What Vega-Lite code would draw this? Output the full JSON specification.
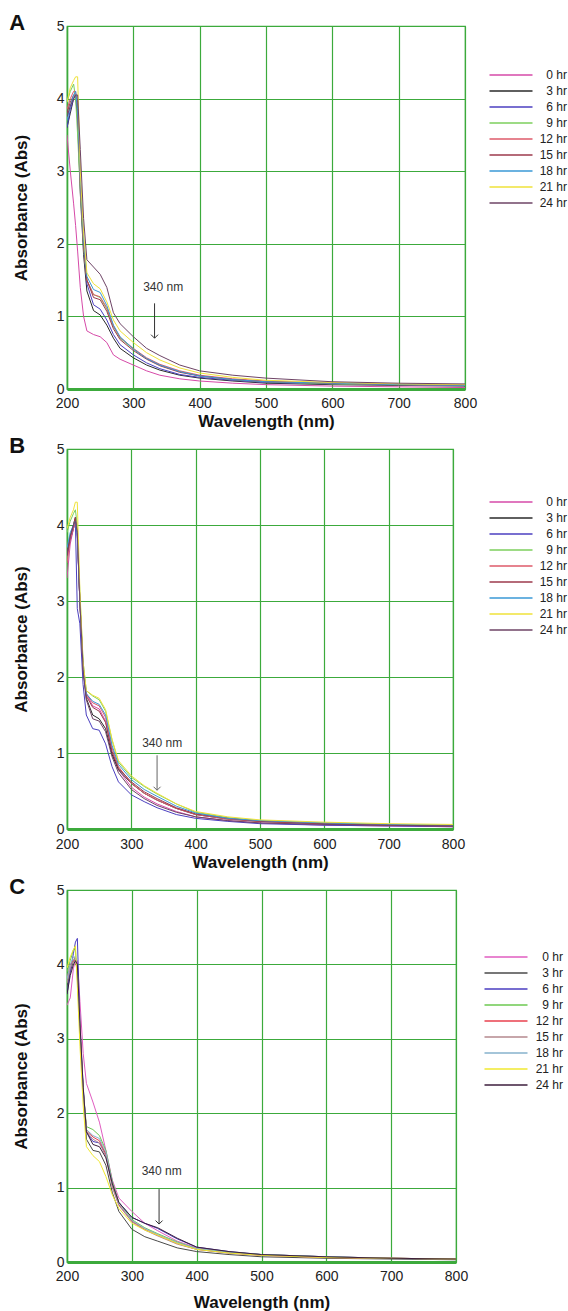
{
"$schema": "https://vega.github.io/schema/vega-lite/v6.json",
"padding": {"left": 8, "top": 11, "right": 0, "bottom": 0},
"background": "white",
"config": {
  "font": "Liberation Sans",
  "view": {"stroke": "#3caa3c", "strokeWidth": 1.2},
  "axis": {"gridColor": "#3caa3c", "gridOpacity": 1, "gridWidth": 1.2, "domainColor": "#3caa3c", "ticks": false, "labelFont": "Liberation Sans", "labelFontSize": 14, "labelColor": "#222", "titleFont": "Liberation Sans", "titleFontSize": 17, "titleFontWeight": "bold", "titleColor": "#111", "format": "d", "labelFlush": false},
  "legend": {"orient": "none", "title": null, "padding": 0, "symbolType": "M-4.3,0H4.3", "symbolSize": 100, "symbolStrokeWidth": 1.5, "labelFont": "Liberation Sans", "labelFontSize": 12, "labelColor": "#222", "labelOffset": 50, "labelAlign": "right", "rowPadding": 4},
  "title": {"font": "Liberation Sans", "fontSize": 22, "fontWeight": "bold", "color": "#111", "anchor": "start", "frame": "bounds", "offset": 0}
},
"resolve": {"scale": {"color": "independent"}, "legend": {"color": "independent"}},
"datasets": {
"A": [
{"s":"0 hr","w":200,"a":3.5},{"s":"0 hr","w":205,"a":3.0},{"s":"0 hr","w":210,"a":2.55},{"s":"0 hr","w":213,"a":2.25},{"s":"0 hr","w":216,"a":1.9},{"s":"0 hr","w":220,"a":1.4},{"s":"0 hr","w":225,"a":1.0},{"s":"0 hr","w":230,"a":0.8},{"s":"0 hr","w":240,"a":0.75},{"s":"0 hr","w":250,"a":0.72},{"s":"0 hr","w":260,"a":0.64},{"s":"0 hr","w":270,"a":0.47},{"s":"0 hr","w":280,"a":0.41},{"s":"0 hr","w":300,"a":0.33},{"s":"0 hr","w":320,"a":0.25},{"s":"0 hr","w":340,"a":0.19},{"s":"0 hr","w":370,"a":0.14},{"s":"0 hr","w":400,"a":0.11},{"s":"0 hr","w":450,"a":0.08},{"s":"0 hr","w":500,"a":0.06},{"s":"0 hr","w":600,"a":0.04},{"s":"0 hr","w":700,"a":0.03},{"s":"0 hr","w":800,"a":0.02},
{"s":"3 hr","w":200,"a":3.6},{"s":"3 hr","w":205,"a":3.8},{"s":"3 hr","w":210,"a":4.0},{"s":"3 hr","w":213,"a":4.05},{"s":"3 hr","w":216,"a":3.7},{"s":"3 hr","w":220,"a":2.7},{"s":"3 hr","w":225,"a":1.85},{"s":"3 hr","w":230,"a":1.35},{"s":"3 hr","w":240,"a":1.08},{"s":"3 hr","w":250,"a":1.02},{"s":"3 hr","w":260,"a":0.88},{"s":"3 hr","w":270,"a":0.7},{"s":"3 hr","w":280,"a":0.56},{"s":"3 hr","w":300,"a":0.43},{"s":"3 hr","w":320,"a":0.33},{"s":"3 hr","w":340,"a":0.26},{"s":"3 hr","w":370,"a":0.19},{"s":"3 hr","w":400,"a":0.15},{"s":"3 hr","w":450,"a":0.11},{"s":"3 hr","w":500,"a":0.08},{"s":"3 hr","w":600,"a":0.06},{"s":"3 hr","w":700,"a":0.05},{"s":"3 hr","w":800,"a":0.04},
{"s":"6 hr","w":200,"a":3.6},{"s":"6 hr","w":205,"a":3.85},{"s":"6 hr","w":210,"a":4.0},{"s":"6 hr","w":213,"a":4.05},{"s":"6 hr","w":216,"a":3.8},{"s":"6 hr","w":220,"a":2.8},{"s":"6 hr","w":225,"a":1.95},{"s":"6 hr","w":230,"a":1.45},{"s":"6 hr","w":240,"a":1.16},{"s":"6 hr","w":250,"a":1.1},{"s":"6 hr","w":260,"a":0.95},{"s":"6 hr","w":270,"a":0.75},{"s":"6 hr","w":280,"a":0.61},{"s":"6 hr","w":300,"a":0.47},{"s":"6 hr","w":320,"a":0.36},{"s":"6 hr","w":340,"a":0.28},{"s":"6 hr","w":370,"a":0.2},{"s":"6 hr","w":400,"a":0.16},{"s":"6 hr","w":450,"a":0.12},{"s":"6 hr","w":500,"a":0.09},{"s":"6 hr","w":600,"a":0.07},{"s":"6 hr","w":700,"a":0.06},{"s":"6 hr","w":800,"a":0.05},
{"s":"9 hr","w":200,"a":3.95},{"s":"9 hr","w":205,"a":4.1},{"s":"9 hr","w":210,"a":4.2},{"s":"9 hr","w":213,"a":4.0},{"s":"9 hr","w":216,"a":3.5},{"s":"9 hr","w":220,"a":2.75},{"s":"9 hr","w":225,"a":1.95},{"s":"9 hr","w":230,"a":1.5},{"s":"9 hr","w":240,"a":1.3},{"s":"9 hr","w":250,"a":1.26},{"s":"9 hr","w":260,"a":1.1},{"s":"9 hr","w":270,"a":0.86},{"s":"9 hr","w":280,"a":0.7},{"s":"9 hr","w":300,"a":0.55},{"s":"9 hr","w":320,"a":0.42},{"s":"9 hr","w":340,"a":0.33},{"s":"9 hr","w":370,"a":0.24},{"s":"9 hr","w":400,"a":0.18},{"s":"9 hr","w":450,"a":0.13},{"s":"9 hr","w":500,"a":0.1},{"s":"9 hr","w":600,"a":0.07},{"s":"9 hr","w":700,"a":0.06},{"s":"9 hr","w":800,"a":0.05},
{"s":"12 hr","w":200,"a":3.85},{"s":"12 hr","w":205,"a":4.0},{"s":"12 hr","w":210,"a":4.1},{"s":"12 hr","w":213,"a":4.1},{"s":"12 hr","w":216,"a":3.9},{"s":"12 hr","w":220,"a":2.85},{"s":"12 hr","w":225,"a":2.0},{"s":"12 hr","w":230,"a":1.5},{"s":"12 hr","w":240,"a":1.3},{"s":"12 hr","w":250,"a":1.27},{"s":"12 hr","w":260,"a":1.12},{"s":"12 hr","w":270,"a":0.87},{"s":"12 hr","w":280,"a":0.71},{"s":"12 hr","w":300,"a":0.56},{"s":"12 hr","w":320,"a":0.43},{"s":"12 hr","w":340,"a":0.34},{"s":"12 hr","w":370,"a":0.25},{"s":"12 hr","w":400,"a":0.19},{"s":"12 hr","w":450,"a":0.14},{"s":"12 hr","w":500,"a":0.11},{"s":"12 hr","w":600,"a":0.08},{"s":"12 hr","w":700,"a":0.06},{"s":"12 hr","w":800,"a":0.05},
{"s":"15 hr","w":200,"a":3.8},{"s":"15 hr","w":205,"a":3.95},{"s":"15 hr","w":210,"a":4.05},{"s":"15 hr","w":213,"a":4.05},{"s":"15 hr","w":216,"a":3.95},{"s":"15 hr","w":220,"a":2.9},{"s":"15 hr","w":225,"a":2.0},{"s":"15 hr","w":230,"a":1.5},{"s":"15 hr","w":240,"a":1.26},{"s":"15 hr","w":250,"a":1.23},{"s":"15 hr","w":260,"a":1.07},{"s":"15 hr","w":270,"a":0.83},{"s":"15 hr","w":280,"a":0.68},{"s":"15 hr","w":300,"a":0.53},{"s":"15 hr","w":320,"a":0.41},{"s":"15 hr","w":340,"a":0.32},{"s":"15 hr","w":370,"a":0.23},{"s":"15 hr","w":400,"a":0.18},{"s":"15 hr","w":450,"a":0.13},{"s":"15 hr","w":500,"a":0.1},{"s":"15 hr","w":600,"a":0.08},{"s":"15 hr","w":700,"a":0.06},{"s":"15 hr","w":800,"a":0.05},
{"s":"18 hr","w":200,"a":3.7},{"s":"18 hr","w":205,"a":3.9},{"s":"18 hr","w":210,"a":4.05},{"s":"18 hr","w":213,"a":4.1},{"s":"18 hr","w":216,"a":3.85},{"s":"18 hr","w":220,"a":2.9},{"s":"18 hr","w":225,"a":2.05},{"s":"18 hr","w":230,"a":1.55},{"s":"18 hr","w":240,"a":1.37},{"s":"18 hr","w":250,"a":1.33},{"s":"18 hr","w":260,"a":1.15},{"s":"18 hr","w":270,"a":0.88},{"s":"18 hr","w":280,"a":0.72},{"s":"18 hr","w":300,"a":0.55},{"s":"18 hr","w":320,"a":0.42},{"s":"18 hr","w":340,"a":0.33},{"s":"18 hr","w":370,"a":0.24},{"s":"18 hr","w":400,"a":0.18},{"s":"18 hr","w":450,"a":0.13},{"s":"18 hr","w":500,"a":0.1},{"s":"18 hr","w":600,"a":0.08},{"s":"18 hr","w":700,"a":0.06},{"s":"18 hr","w":800,"a":0.05},
{"s":"21 hr","w":200,"a":3.95},{"s":"21 hr","w":205,"a":4.15},{"s":"21 hr","w":210,"a":4.25},{"s":"21 hr","w":213,"a":4.3},{"s":"21 hr","w":216,"a":4.3},{"s":"21 hr","w":220,"a":3.0},{"s":"21 hr","w":225,"a":2.15},{"s":"21 hr","w":230,"a":1.6},{"s":"21 hr","w":240,"a":1.45},{"s":"21 hr","w":250,"a":1.38},{"s":"21 hr","w":260,"a":1.2},{"s":"21 hr","w":270,"a":0.95},{"s":"21 hr","w":280,"a":0.8},{"s":"21 hr","w":300,"a":0.64},{"s":"21 hr","w":320,"a":0.5},{"s":"21 hr","w":340,"a":0.4},{"s":"21 hr","w":370,"a":0.29},{"s":"21 hr","w":400,"a":0.22},{"s":"21 hr","w":450,"a":0.16},{"s":"21 hr","w":500,"a":0.12},{"s":"21 hr","w":600,"a":0.09},{"s":"21 hr","w":700,"a":0.07},{"s":"21 hr","w":800,"a":0.06},
{"s":"24 hr","w":200,"a":3.75},{"s":"24 hr","w":205,"a":3.9},{"s":"24 hr","w":210,"a":4.0},{"s":"24 hr","w":213,"a":4.05},{"s":"24 hr","w":216,"a":4.05},{"s":"24 hr","w":220,"a":3.3},{"s":"24 hr","w":225,"a":2.35},{"s":"24 hr","w":230,"a":1.78},{"s":"24 hr","w":240,"a":1.68},{"s":"24 hr","w":250,"a":1.58},{"s":"24 hr","w":260,"a":1.4},{"s":"24 hr","w":270,"a":1.05},{"s":"24 hr","w":280,"a":0.9},{"s":"24 hr","w":300,"a":0.72},{"s":"24 hr","w":320,"a":0.56},{"s":"24 hr","w":340,"a":0.46},{"s":"24 hr","w":370,"a":0.33},{"s":"24 hr","w":400,"a":0.25},{"s":"24 hr","w":450,"a":0.19},{"s":"24 hr","w":500,"a":0.15},{"s":"24 hr","w":600,"a":0.1},{"s":"24 hr","w":700,"a":0.08},{"s":"24 hr","w":800,"a":0.07}
],
"B": [
{"s":"0 hr","w":200,"a":3.3},{"s":"0 hr","w":205,"a":3.75},{"s":"0 hr","w":210,"a":3.95},{"s":"0 hr","w":213,"a":4.05},{"s":"0 hr","w":216,"a":3.85},{"s":"0 hr","w":220,"a":3.0},{"s":"0 hr","w":225,"a":2.1},{"s":"0 hr","w":230,"a":1.78},{"s":"0 hr","w":240,"a":1.62},{"s":"0 hr","w":250,"a":1.58},{"s":"0 hr","w":260,"a":1.42},{"s":"0 hr","w":270,"a":1.0},{"s":"0 hr","w":280,"a":0.78},{"s":"0 hr","w":300,"a":0.55},{"s":"0 hr","w":320,"a":0.42},{"s":"0 hr","w":340,"a":0.33},{"s":"0 hr","w":370,"a":0.23},{"s":"0 hr","w":400,"a":0.16},{"s":"0 hr","w":450,"a":0.11},{"s":"0 hr","w":500,"a":0.08},{"s":"0 hr","w":600,"a":0.05},{"s":"0 hr","w":700,"a":0.04},{"s":"0 hr","w":800,"a":0.03},
{"s":"3 hr","w":200,"a":3.6},{"s":"3 hr","w":205,"a":3.85},{"s":"3 hr","w":210,"a":4.0},{"s":"3 hr","w":213,"a":4.1},{"s":"3 hr","w":216,"a":3.9},{"s":"3 hr","w":220,"a":3.0},{"s":"3 hr","w":225,"a":2.1},{"s":"3 hr","w":230,"a":1.72},{"s":"3 hr","w":240,"a":1.5},{"s":"3 hr","w":250,"a":1.45},{"s":"3 hr","w":260,"a":1.32},{"s":"3 hr","w":270,"a":0.98},{"s":"3 hr","w":280,"a":0.78},{"s":"3 hr","w":300,"a":0.6},{"s":"3 hr","w":320,"a":0.47},{"s":"3 hr","w":340,"a":0.38},{"s":"3 hr","w":370,"a":0.27},{"s":"3 hr","w":400,"a":0.19},{"s":"3 hr","w":450,"a":0.13},{"s":"3 hr","w":500,"a":0.1},{"s":"3 hr","w":600,"a":0.07},{"s":"3 hr","w":700,"a":0.05},{"s":"3 hr","w":800,"a":0.04},
{"s":"6 hr","w":200,"a":3.6},{"s":"6 hr","w":205,"a":3.8},{"s":"6 hr","w":210,"a":3.95},{"s":"6 hr","w":213,"a":4.05},{"s":"6 hr","w":216,"a":2.9},{"s":"6 hr","w":220,"a":2.7},{"s":"6 hr","w":225,"a":1.9},{"s":"6 hr","w":230,"a":1.5},{"s":"6 hr","w":240,"a":1.32},{"s":"6 hr","w":250,"a":1.3},{"s":"6 hr","w":260,"a":1.12},{"s":"6 hr","w":270,"a":0.82},{"s":"6 hr","w":280,"a":0.62},{"s":"6 hr","w":300,"a":0.45},{"s":"6 hr","w":320,"a":0.36},{"s":"6 hr","w":340,"a":0.28},{"s":"6 hr","w":370,"a":0.19},{"s":"6 hr","w":400,"a":0.14},{"s":"6 hr","w":450,"a":0.1},{"s":"6 hr","w":500,"a":0.07},{"s":"6 hr","w":600,"a":0.05},{"s":"6 hr","w":700,"a":0.04},{"s":"6 hr","w":800,"a":0.03},
{"s":"9 hr","w":200,"a":3.9},{"s":"9 hr","w":205,"a":4.05},{"s":"9 hr","w":210,"a":4.15},{"s":"9 hr","w":213,"a":4.2},{"s":"9 hr","w":216,"a":4.0},{"s":"9 hr","w":220,"a":3.1},{"s":"9 hr","w":225,"a":2.2},{"s":"9 hr","w":230,"a":1.82},{"s":"9 hr","w":240,"a":1.75},{"s":"9 hr","w":250,"a":1.7},{"s":"9 hr","w":260,"a":1.55},{"s":"9 hr","w":270,"a":1.17},{"s":"9 hr","w":280,"a":0.88},{"s":"9 hr","w":300,"a":0.68},{"s":"9 hr","w":320,"a":0.56},{"s":"9 hr","w":340,"a":0.46},{"s":"9 hr","w":370,"a":0.33},{"s":"9 hr","w":400,"a":0.22},{"s":"9 hr","w":450,"a":0.15},{"s":"9 hr","w":500,"a":0.11},{"s":"9 hr","w":600,"a":0.08},{"s":"9 hr","w":700,"a":0.06},{"s":"9 hr","w":800,"a":0.05},
{"s":"12 hr","w":200,"a":3.5},{"s":"12 hr","w":205,"a":3.8},{"s":"12 hr","w":210,"a":3.95},{"s":"12 hr","w":213,"a":4.05},{"s":"12 hr","w":216,"a":3.9},{"s":"12 hr","w":220,"a":3.0},{"s":"12 hr","w":225,"a":2.15},{"s":"12 hr","w":230,"a":1.78},{"s":"12 hr","w":240,"a":1.66},{"s":"12 hr","w":250,"a":1.62},{"s":"12 hr","w":260,"a":1.47},{"s":"12 hr","w":270,"a":1.07},{"s":"12 hr","w":280,"a":0.82},{"s":"12 hr","w":300,"a":0.6},{"s":"12 hr","w":320,"a":0.47},{"s":"12 hr","w":340,"a":0.38},{"s":"12 hr","w":370,"a":0.27},{"s":"12 hr","w":400,"a":0.19},{"s":"12 hr","w":450,"a":0.13},{"s":"12 hr","w":500,"a":0.1},{"s":"12 hr","w":600,"a":0.07},{"s":"12 hr","w":700,"a":0.05},{"s":"12 hr","w":800,"a":0.04},
{"s":"15 hr","w":200,"a":3.6},{"s":"15 hr","w":205,"a":3.85},{"s":"15 hr","w":210,"a":4.0},{"s":"15 hr","w":213,"a":4.1},{"s":"15 hr","w":216,"a":3.9},{"s":"15 hr","w":220,"a":3.0},{"s":"15 hr","w":225,"a":2.1},{"s":"15 hr","w":230,"a":1.75},{"s":"15 hr","w":240,"a":1.6},{"s":"15 hr","w":250,"a":1.55},{"s":"15 hr","w":260,"a":1.4},{"s":"15 hr","w":270,"a":1.02},{"s":"15 hr","w":280,"a":0.8},{"s":"15 hr","w":300,"a":0.62},{"s":"15 hr","w":320,"a":0.49},{"s":"15 hr","w":340,"a":0.4},{"s":"15 hr","w":370,"a":0.28},{"s":"15 hr","w":400,"a":0.2},{"s":"15 hr","w":450,"a":0.14},{"s":"15 hr","w":500,"a":0.1},{"s":"15 hr","w":600,"a":0.07},{"s":"15 hr","w":700,"a":0.05},{"s":"15 hr","w":800,"a":0.04},
{"s":"18 hr","w":200,"a":3.7},{"s":"18 hr","w":205,"a":3.9},{"s":"18 hr","w":210,"a":4.0},{"s":"18 hr","w":213,"a":4.05},{"s":"18 hr","w":216,"a":3.85},{"s":"18 hr","w":220,"a":3.0},{"s":"18 hr","w":225,"a":2.15},{"s":"18 hr","w":230,"a":1.78},{"s":"18 hr","w":240,"a":1.68},{"s":"18 hr","w":250,"a":1.64},{"s":"18 hr","w":260,"a":1.5},{"s":"18 hr","w":270,"a":1.1},{"s":"18 hr","w":280,"a":0.85},{"s":"18 hr","w":300,"a":0.65},{"s":"18 hr","w":320,"a":0.52},{"s":"18 hr","w":340,"a":0.43},{"s":"18 hr","w":370,"a":0.3},{"s":"18 hr","w":400,"a":0.21},{"s":"18 hr","w":450,"a":0.14},{"s":"18 hr","w":500,"a":0.11},{"s":"18 hr","w":600,"a":0.08},{"s":"18 hr","w":700,"a":0.06},{"s":"18 hr","w":800,"a":0.05},
{"s":"21 hr","w":200,"a":3.95},{"s":"21 hr","w":205,"a":4.1},{"s":"21 hr","w":210,"a":4.2},{"s":"21 hr","w":213,"a":4.3},{"s":"21 hr","w":216,"a":4.3},{"s":"21 hr","w":220,"a":3.15},{"s":"21 hr","w":225,"a":2.2},{"s":"21 hr","w":230,"a":1.82},{"s":"21 hr","w":240,"a":1.76},{"s":"21 hr","w":250,"a":1.72},{"s":"21 hr","w":260,"a":1.57},{"s":"21 hr","w":270,"a":1.18},{"s":"21 hr","w":280,"a":0.9},{"s":"21 hr","w":300,"a":0.7},{"s":"21 hr","w":320,"a":0.57},{"s":"21 hr","w":340,"a":0.47},{"s":"21 hr","w":370,"a":0.33},{"s":"21 hr","w":400,"a":0.23},{"s":"21 hr","w":450,"a":0.16},{"s":"21 hr","w":500,"a":0.12},{"s":"21 hr","w":600,"a":0.09},{"s":"21 hr","w":700,"a":0.07},{"s":"21 hr","w":800,"a":0.06},
{"s":"24 hr","w":200,"a":3.6},{"s":"24 hr","w":205,"a":3.85},{"s":"24 hr","w":210,"a":4.0},{"s":"24 hr","w":213,"a":4.05},{"s":"24 hr","w":216,"a":3.9},{"s":"24 hr","w":220,"a":3.0},{"s":"24 hr","w":225,"a":2.1},{"s":"24 hr","w":230,"a":1.7},{"s":"24 hr","w":240,"a":1.45},{"s":"24 hr","w":250,"a":1.42},{"s":"24 hr","w":260,"a":1.28},{"s":"24 hr","w":270,"a":0.95},{"s":"24 hr","w":280,"a":0.74},{"s":"24 hr","w":300,"a":0.52},{"s":"24 hr","w":320,"a":0.4},{"s":"24 hr","w":340,"a":0.31},{"s":"24 hr","w":370,"a":0.22},{"s":"24 hr","w":400,"a":0.16},{"s":"24 hr","w":450,"a":0.11},{"s":"24 hr","w":500,"a":0.08},{"s":"24 hr","w":600,"a":0.06},{"s":"24 hr","w":700,"a":0.05},{"s":"24 hr","w":800,"a":0.04}
],
"C": [
{"s":"0 hr","w":200,"a":3.45},{"s":"0 hr","w":205,"a":3.55},{"s":"0 hr","w":210,"a":3.95},{"s":"0 hr","w":213,"a":4.05},{"s":"0 hr","w":216,"a":4.05},{"s":"0 hr","w":220,"a":3.5},{"s":"0 hr","w":225,"a":2.8},{"s":"0 hr","w":230,"a":2.4},{"s":"0 hr","w":240,"a":2.15},{"s":"0 hr","w":250,"a":1.88},{"s":"0 hr","w":260,"a":1.5},{"s":"0 hr","w":270,"a":1.1},{"s":"0 hr","w":280,"a":0.86},{"s":"0 hr","w":300,"a":0.68},{"s":"0 hr","w":320,"a":0.52},{"s":"0 hr","w":340,"a":0.42},{"s":"0 hr","w":370,"a":0.28},{"s":"0 hr","w":400,"a":0.19},{"s":"0 hr","w":450,"a":0.13},{"s":"0 hr","w":500,"a":0.1},{"s":"0 hr","w":600,"a":0.07},{"s":"0 hr","w":700,"a":0.05},{"s":"0 hr","w":800,"a":0.04},
{"s":"3 hr","w":200,"a":3.7},{"s":"3 hr","w":205,"a":3.9},{"s":"3 hr","w":210,"a":4.05},{"s":"3 hr","w":213,"a":4.1},{"s":"3 hr","w":216,"a":3.95},{"s":"3 hr","w":220,"a":3.1},{"s":"3 hr","w":225,"a":2.3},{"s":"3 hr","w":230,"a":1.65},{"s":"3 hr","w":240,"a":1.5},{"s":"3 hr","w":250,"a":1.48},{"s":"3 hr","w":260,"a":1.3},{"s":"3 hr","w":270,"a":0.93},{"s":"3 hr","w":280,"a":0.68},{"s":"3 hr","w":300,"a":0.44},{"s":"3 hr","w":320,"a":0.34},{"s":"3 hr","w":340,"a":0.28},{"s":"3 hr","w":370,"a":0.19},{"s":"3 hr","w":400,"a":0.14},{"s":"3 hr","w":450,"a":0.1},{"s":"3 hr","w":500,"a":0.07},{"s":"3 hr","w":600,"a":0.05},{"s":"3 hr","w":700,"a":0.04},{"s":"3 hr","w":800,"a":0.03},
{"s":"6 hr","w":200,"a":3.6},{"s":"6 hr","w":205,"a":3.9},{"s":"6 hr","w":210,"a":4.15},{"s":"6 hr","w":213,"a":4.3},{"s":"6 hr","w":216,"a":4.35},{"s":"6 hr","w":220,"a":3.2},{"s":"6 hr","w":225,"a":2.35},{"s":"6 hr","w":230,"a":1.75},{"s":"6 hr","w":240,"a":1.62},{"s":"6 hr","w":250,"a":1.6},{"s":"6 hr","w":260,"a":1.45},{"s":"6 hr","w":270,"a":1.05},{"s":"6 hr","w":280,"a":0.8},{"s":"6 hr","w":300,"a":0.6},{"s":"6 hr","w":320,"a":0.52},{"s":"6 hr","w":340,"a":0.45},{"s":"6 hr","w":370,"a":0.31},{"s":"6 hr","w":400,"a":0.2},{"s":"6 hr","w":450,"a":0.14},{"s":"6 hr","w":500,"a":0.1},{"s":"6 hr","w":600,"a":0.07},{"s":"6 hr","w":700,"a":0.05},{"s":"6 hr","w":800,"a":0.04},
{"s":"9 hr","w":200,"a":3.9},{"s":"9 hr","w":205,"a":4.05},{"s":"9 hr","w":210,"a":4.2},{"s":"9 hr","w":213,"a":4.2},{"s":"9 hr","w":216,"a":3.8},{"s":"9 hr","w":220,"a":3.1},{"s":"9 hr","w":225,"a":2.3},{"s":"9 hr","w":230,"a":1.82},{"s":"9 hr","w":240,"a":1.78},{"s":"9 hr","w":250,"a":1.7},{"s":"9 hr","w":260,"a":1.5},{"s":"9 hr","w":270,"a":1.08},{"s":"9 hr","w":280,"a":0.8},{"s":"9 hr","w":300,"a":0.57},{"s":"9 hr","w":320,"a":0.46},{"s":"9 hr","w":340,"a":0.38},{"s":"9 hr","w":370,"a":0.27},{"s":"9 hr","w":400,"a":0.18},{"s":"9 hr","w":450,"a":0.13},{"s":"9 hr","w":500,"a":0.1},{"s":"9 hr","w":600,"a":0.07},{"s":"9 hr","w":700,"a":0.05},{"s":"9 hr","w":800,"a":0.04},
{"s":"12 hr","w":200,"a":3.8},{"s":"12 hr","w":205,"a":4.0},{"s":"12 hr","w":210,"a":4.05},{"s":"12 hr","w":213,"a":4.05},{"s":"12 hr","w":216,"a":3.9},{"s":"12 hr","w":220,"a":3.15},{"s":"12 hr","w":225,"a":2.3},{"s":"12 hr","w":230,"a":1.78},{"s":"12 hr","w":240,"a":1.68},{"s":"12 hr","w":250,"a":1.63},{"s":"12 hr","w":260,"a":1.45},{"s":"12 hr","w":270,"a":1.02},{"s":"12 hr","w":280,"a":0.77},{"s":"12 hr","w":300,"a":0.55},{"s":"12 hr","w":320,"a":0.44},{"s":"12 hr","w":340,"a":0.36},{"s":"12 hr","w":370,"a":0.25},{"s":"12 hr","w":400,"a":0.17},{"s":"12 hr","w":450,"a":0.12},{"s":"12 hr","w":500,"a":0.09},{"s":"12 hr","w":600,"a":0.06},{"s":"12 hr","w":700,"a":0.05},{"s":"12 hr","w":800,"a":0.04},
{"s":"15 hr","w":200,"a":3.75},{"s":"15 hr","w":205,"a":3.95},{"s":"15 hr","w":210,"a":4.05},{"s":"15 hr","w":213,"a":4.1},{"s":"15 hr","w":216,"a":3.9},{"s":"15 hr","w":220,"a":3.1},{"s":"15 hr","w":225,"a":2.28},{"s":"15 hr","w":230,"a":1.76},{"s":"15 hr","w":240,"a":1.65},{"s":"15 hr","w":250,"a":1.6},{"s":"15 hr","w":260,"a":1.42},{"s":"15 hr","w":270,"a":1.0},{"s":"15 hr","w":280,"a":0.76},{"s":"15 hr","w":300,"a":0.54},{"s":"15 hr","w":320,"a":0.43},{"s":"15 hr","w":340,"a":0.35},{"s":"15 hr","w":370,"a":0.24},{"s":"15 hr","w":400,"a":0.17},{"s":"15 hr","w":450,"a":0.12},{"s":"15 hr","w":500,"a":0.09},{"s":"15 hr","w":600,"a":0.06},{"s":"15 hr","w":700,"a":0.05},{"s":"15 hr","w":800,"a":0.04},
{"s":"18 hr","w":200,"a":3.8},{"s":"18 hr","w":205,"a":4.0},{"s":"18 hr","w":210,"a":4.1},{"s":"18 hr","w":213,"a":4.1},{"s":"18 hr","w":216,"a":3.9},{"s":"18 hr","w":220,"a":3.12},{"s":"18 hr","w":225,"a":2.3},{"s":"18 hr","w":230,"a":1.78},{"s":"18 hr","w":240,"a":1.7},{"s":"18 hr","w":250,"a":1.66},{"s":"18 hr","w":260,"a":1.48},{"s":"18 hr","w":270,"a":1.05},{"s":"18 hr","w":280,"a":0.79},{"s":"18 hr","w":300,"a":0.56},{"s":"18 hr","w":320,"a":0.45},{"s":"18 hr","w":340,"a":0.37},{"s":"18 hr","w":370,"a":0.26},{"s":"18 hr","w":400,"a":0.18},{"s":"18 hr","w":450,"a":0.13},{"s":"18 hr","w":500,"a":0.1},{"s":"18 hr","w":600,"a":0.07},{"s":"18 hr","w":700,"a":0.05},{"s":"18 hr","w":800,"a":0.04},
{"s":"21 hr","w":200,"a":3.95},{"s":"21 hr","w":205,"a":4.1},{"s":"21 hr","w":210,"a":4.2},{"s":"21 hr","w":213,"a":4.25},{"s":"21 hr","w":216,"a":3.7},{"s":"21 hr","w":220,"a":2.9},{"s":"21 hr","w":225,"a":2.1},{"s":"21 hr","w":230,"a":1.55},{"s":"21 hr","w":240,"a":1.43},{"s":"21 hr","w":250,"a":1.35},{"s":"21 hr","w":260,"a":1.15},{"s":"21 hr","w":270,"a":0.9},{"s":"21 hr","w":280,"a":0.72},{"s":"21 hr","w":300,"a":0.52},{"s":"21 hr","w":320,"a":0.43},{"s":"21 hr","w":340,"a":0.36},{"s":"21 hr","w":370,"a":0.25},{"s":"21 hr","w":400,"a":0.17},{"s":"21 hr","w":450,"a":0.12},{"s":"21 hr","w":500,"a":0.09},{"s":"21 hr","w":600,"a":0.06},{"s":"21 hr","w":700,"a":0.05},{"s":"21 hr","w":800,"a":0.04},
{"s":"24 hr","w":200,"a":3.6},{"s":"24 hr","w":205,"a":3.85},{"s":"24 hr","w":210,"a":4.0},{"s":"24 hr","w":213,"a":4.05},{"s":"24 hr","w":216,"a":4.0},{"s":"24 hr","w":220,"a":3.2},{"s":"24 hr","w":225,"a":2.35},{"s":"24 hr","w":230,"a":1.75},{"s":"24 hr","w":240,"a":1.58},{"s":"24 hr","w":250,"a":1.55},{"s":"24 hr","w":260,"a":1.4},{"s":"24 hr","w":270,"a":1.05},{"s":"24 hr","w":280,"a":0.8},{"s":"24 hr","w":300,"a":0.6},{"s":"24 hr","w":320,"a":0.52},{"s":"24 hr","w":340,"a":0.46},{"s":"24 hr","w":370,"a":0.32},{"s":"24 hr","w":400,"a":0.2},{"s":"24 hr","w":450,"a":0.14},{"s":"24 hr","w":500,"a":0.1},{"s":"24 hr","w":600,"a":0.07},{"s":"24 hr","w":700,"a":0.05},{"s":"24 hr","w":800,"a":0.04}
]
},
"spacing": 4,
"vconcat": [
{
  "width": 398, "height": 363,
  "title": {"text": "A", "dy": 20, "dx": -3},
  "layer": [
    {"data": {"name": "A"}, "mark": {"type": "line", "strokeWidth": 1, "clip": true},
     "encoding": {
       "x": {"field": "w", "type": "quantitative", "scale": {"domain": [200, 800], "nice": false}, "axis": {"values": [200,300,400,500,600,700,800], "title": "Wavelength (nm)", "domainWidth": 3, "labelPadding": 7, "titlePadding": 3}},
       "y": {"field": "a", "type": "quantitative", "scale": {"domain": [0, 5], "nice": false}, "axis": {"values": [0,1,2,3,4,5], "title": "Absorbance (Abs)", "labelPadding": 3, "titlePadding": 26, "domainWidth": 1.5}},
       "color": {"field": "s", "type": "nominal", "scale": {"domain": ["0 hr","3 hr","6 hr","9 hr","12 hr","15 hr","18 hr","21 hr","24 hr"], "range": ["#d64aa8","#2a2a2a","#4b3fc0","#7ccf5c","#de5a6a","#9c3a4c","#3a98d6","#efe23a","#6e4466"]}, "legend": {"legendX": 438, "legendY": 43, "labelOffset": 50}}
     }},
    {"data": {"values": [{"w": 332, "a": 1.18, "a2": 0.70}]}, "mark": {"type": "rule", "color": "#333", "strokeWidth": 1}, "encoding": {"x": {"field": "w", "type": "quantitative"}, "y": {"field": "a", "type": "quantitative"}, "y2": {"field": "a2"}}},
    {"data": {"values": [{"w": 332, "a": 0.70}]}, "mark": {"type": "point", "shape": "M-1,-1L0,0L1,-1", "size": 49, "color": "#333", "filled": false, "strokeWidth": 1, "opacity": 1}, "encoding": {"x": {"field": "w", "type": "quantitative"}, "y": {"field": "a", "type": "quantitative"}}},
    {"data": {"values": [{"w": 345, "a": 1.40, "t": "340 nm"}]}, "mark": {"type": "text", "fontSize": 12, "color": "#333"}, "encoding": {"x": {"field": "w", "type": "quantitative"}, "y": {"field": "a", "type": "quantitative"}, "text": {"field": "t"}}}
  ]
},
{
  "width": 386, "height": 380,
  "title": {"text": "B", "dy": 20, "dx": -3},
  "layer": [
    {"data": {"name": "B"}, "mark": {"type": "line", "strokeWidth": 1, "clip": true},
     "encoding": {
       "x": {"field": "w", "type": "quantitative", "scale": {"domain": [200, 800], "nice": false}, "axis": {"values": [200,300,400,500,600,700,800], "title": "Wavelength (nm)", "domainWidth": 3, "labelPadding": 8, "titlePadding": 3}},
       "y": {"field": "a", "type": "quantitative", "scale": {"domain": [0, 5], "nice": false}, "axis": {"values": [0,1,2,3,4,5], "title": "Absorbance (Abs)", "labelPadding": 3, "titlePadding": 26, "domainWidth": 1.5}},
       "color": {"field": "s", "type": "nominal", "scale": {"domain": ["0 hr","3 hr","6 hr","9 hr","12 hr","15 hr","18 hr","21 hr","24 hr"], "range": ["#d64aa8","#2a2a2a","#4b3fc0","#7ccf5c","#de5a6a","#9c3a4c","#3a98d6","#efe23a","#6e4466"]}, "legend": {"legendX": 438, "legendY": 47, "labelOffset": 50}}
     }},
    {"data": {"values": [{"w": 340, "a": 0.97, "a2": 0.51}]}, "mark": {"type": "rule", "color": "#666", "strokeWidth": 1}, "encoding": {"x": {"field": "w", "type": "quantitative"}, "y": {"field": "a", "type": "quantitative"}, "y2": {"field": "a2"}}},
    {"data": {"values": [{"w": 340, "a": 0.51}]}, "mark": {"type": "point", "shape": "M-1,-1L0,0L1,-1", "size": 49, "color": "#666", "filled": false, "strokeWidth": 1, "opacity": 1}, "encoding": {"x": {"field": "w", "type": "quantitative"}, "y": {"field": "a", "type": "quantitative"}}},
    {"data": {"values": [{"w": 348, "a": 1.13, "t": "340 nm"}]}, "mark": {"type": "text", "fontSize": 12, "color": "#333"}, "encoding": {"x": {"field": "w", "type": "quantitative"}, "y": {"field": "a", "type": "quantitative"}, "text": {"field": "t"}}}
  ]
},
{
  "width": 389, "height": 372,
  "title": {"text": "C", "dy": 20, "dx": -3},
  "layer": [
    {"data": {"name": "C"}, "mark": {"type": "line", "strokeWidth": 1, "clip": true},
     "encoding": {
       "x": {"field": "w", "type": "quantitative", "scale": {"domain": [200, 800], "nice": false}, "axis": {"values": [200,300,400,500,600,700,800], "title": "Wavelength (nm)", "domainWidth": 3, "labelPadding": 7, "titlePadding": 11}},
       "y": {"field": "a", "type": "quantitative", "scale": {"domain": [0, 5], "nice": false}, "axis": {"values": [0,1,2,3,4,5], "title": "Absorbance (Abs)", "labelPadding": 3, "titlePadding": 26, "domainWidth": 1.5}},
       "color": {"field": "s", "type": "nominal", "scale": {"domain": ["0 hr","3 hr","6 hr","9 hr","12 hr","15 hr","18 hr","21 hr","24 hr"], "range": ["#e05cc0","#4a4a4a","#4a3cc0","#6cc850","#e8404e","#b4888e","#86b2cc","#f0e830","#3c1e3c"]}, "legend": {"legendX": 433, "legendY": 61, "labelOffset": 51}}
     }},
    {"data": {"values": [{"w": 342, "a": 0.98, "a2": 0.51}]}, "mark": {"type": "rule", "color": "#333", "strokeWidth": 1}, "encoding": {"x": {"field": "w", "type": "quantitative"}, "y": {"field": "a", "type": "quantitative"}, "y2": {"field": "a2"}}},
    {"data": {"values": [{"w": 342, "a": 0.51}]}, "mark": {"type": "point", "shape": "M-1,-1L0,0L1,-1", "size": 49, "color": "#333", "filled": false, "strokeWidth": 1, "opacity": 1}, "encoding": {"x": {"field": "w", "type": "quantitative"}, "y": {"field": "a", "type": "quantitative"}}},
    {"data": {"values": [{"w": 346, "a": 1.22, "t": "340 nm"}]}, "mark": {"type": "text", "fontSize": 12, "color": "#333"}, "encoding": {"x": {"field": "w", "type": "quantitative"}, "y": {"field": "a", "type": "quantitative"}, "text": {"field": "t"}}}
  ]
}
]
}
